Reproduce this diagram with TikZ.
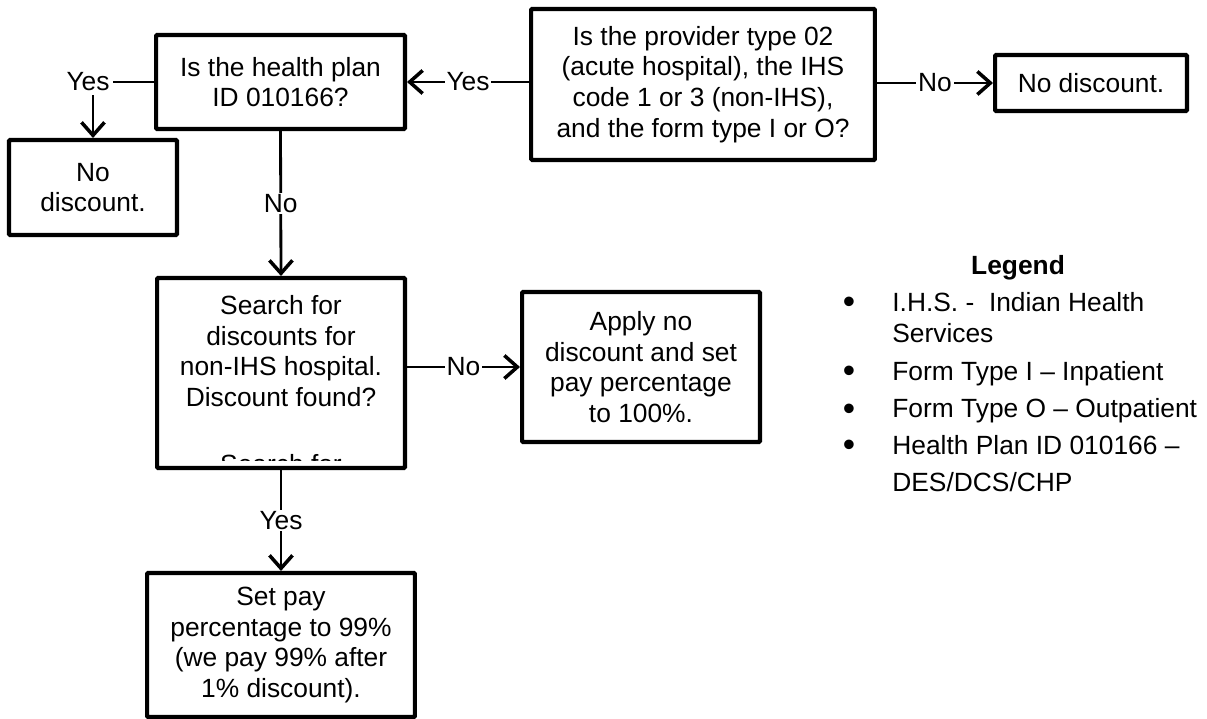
\documentclass[tikz,border=0pt]{standalone}
\usepackage{fontspec}
\setmainfont{Liberation Sans}
\usetikzlibrary{arrows.meta}

\begin{document}
\begin{tikzpicture}[x=0.02cm, y=-0.02cm,
        every node/.style={font=\fontsize{15}{17.5}\selectfont},
        box/.style={draw, line width=2.3pt, align=center, inner sep=2pt, rounded corners=0.6pt},
        lbl/.style={fill=white, inner sep=1pt},
        leg/.style={anchor=base west, inner sep=0pt},
        bul/.style={anchor=base, inner sep=0pt, font=\fontsize{20}{24}\selectfont},
        arr/.style={-{Straight Barb[length=2.6mm, width=4.6mm, line width=2pt]}, line width=1.6pt}]
        \useasboundingbox (0,0) rectangle (1207,719);

        \node[box, minimum width=6.88cm, minimum height=3.02cm] (provq) at (703,84.5) {Is the provider type 02\\(acute hospital), the IHS\\code 1 or 3 (non-IHS),\\and the form type I or O?};
        \node[box, minimum width=3.84cm, minimum height=1.12cm] (nodisc2) at (1091,83) {No discount.};
        \node[box, minimum width=4.98cm, minimum height=1.88cm] (planq) at (280.5,82) {Is the health plan\\ID 010166?};
        \node[box, minimum width=3.36cm, minimum height=1.9cm] (nodisc1) at (93,187.5) {No\\discount.};
        \node[box, minimum width=4.96cm, minimum height=3.8cm] (search) at (281,373) {};
        \node[align=center] (searchtxt) at (281,351) {Search for\\discounts for\\non-IHS hospital.\\Discount found?};
        \begin{scope}
            \clip ([yshift=0.2cm]search.south west) rectangle (search.north east);
            \node[anchor=base] (searchcut) at (281,473) {Search for};
        \end{scope}
        \node[box, minimum width=4.76cm, minimum height=3.0cm] (apply) at (641,367) {Apply no\\discount and set\\pay percentage\\to 100\%.};
        \node[box, minimum width=5.36cm, minimum height=2.88cm] (setpay) at (281,645) {Set pay\\percentage to 99\%\\(we pay 99\% after\\1\% discount).};

        \draw[arr] (planq.east -| provq.west) -- node[lbl] {Yes} (planq.east);
        \draw[arr] (nodisc2.west -| provq.east) -- node[lbl] {No} (nodisc2.west);
        \draw[arr] (planq.west) -| node[lbl, pos=0.5, xshift=-0.1cm, inner sep=2pt] {Yes} (nodisc1.north);
        \draw[arr] (planq.south) -- node[lbl] {No} (search.north);
        \draw[arr] (apply.west -| search.east) -- node[lbl] {No} (apply.west);
        \draw[arr] (search.south) -- node[lbl] {Yes} (setpay.north);

        % legend
        \node[font=\bfseries\fontsize{15}{17.5}\selectfont] (legend) at (1018,268) {Legend};
        \node[bul] (bul1) at (849,314) {•};
        \node[bul] (bul2) at (849,383) {•};
        \node[bul] (bul3) at (849,420) {•};
        \node[bul] (bul4) at (849,457) {•};
        \node[leg] (leg1) at (892,312) {I.H.S. -\ \ Indian Health};
        \node[leg] (leg1b) at (892,343) {Services};
        \node[leg] (leg2) at (892,381) {Form Type I – Inpatient};
        \node[leg] (leg3) at (892,418) {Form Type O – Outpatient};
        \node[leg] (leg4) at (892,455) {Health Plan ID 010166 –};
        \node[leg] (leg4b) at (892,491) {DES/DCS/CHP};
    \end{tikzpicture}
\end{document}
